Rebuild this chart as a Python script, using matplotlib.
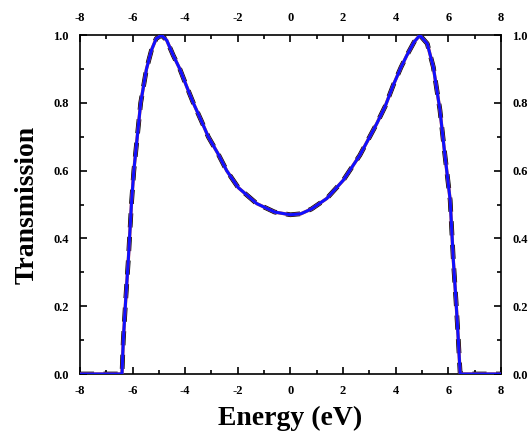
import numpy as np
import matplotlib
matplotlib.use("Agg")
import matplotlib.pyplot as plt
from matplotlib.ticker import MultipleLocator

# values
energy = [-8.0, -6.40, -6.35, -6.26, -6.16, -6.04, -5.95, -5.82, -5.69, -5.58,
          -5.47, -5.28, -5.10, -4.90, -4.70, -4.45, -4.20, -3.95, -3.69, -3.40,
          -3.12, -2.75, -2.42, -1.98, -1.28, -0.60, 0.00, 0.40, 0.80, 1.38,
          2.01, 2.64, 3.28, 3.60, 3.91, 4.20, 4.42, 4.70, 4.92, 5.20,
          5.43, 5.68, 5.85, 6.07, 6.19, 6.29, 6.38, 6.45, 8.0]
trans = [0.0, 0.0, 0.10, 0.218, 0.336, 0.503, 0.60, 0.70, 0.80, 0.85,
         0.90, 0.956, 0.99, 1.0, 0.985, 0.94, 0.90, 0.85, 0.80, 0.75,
         0.70, 0.65, 0.60, 0.55, 0.503, 0.478, 0.47, 0.473, 0.487, 0.518,
         0.572, 0.646, 0.739, 0.79, 0.853, 0.905, 0.94, 0.98, 1.0, 0.975,
         0.906, 0.78, 0.66, 0.513, 0.336, 0.218, 0.10, 0.0, 0.0]

xticks = [-8, -6, -4, -2, 0, 2, 4, 6, 8]
yticks = [0.0, 0.2, 0.4, 0.6, 0.8, 1.0]

plt.rcParams['font.family'] = ['Liberation Serif', 'DejaVu Serif']

fig = plt.figure(figsize=(5.29, 4.4), dpi=100)
ax = fig.add_axes([0.151, 0.15, 0.796, 0.77])

ax.plot(energy, trans, color='black', lw=3.4, ls=(0, (3, 2)), zorder=2)
ax.plot(energy, trans, color='#e0622a', lw=2.4, zorder=3)
ax.plot(energy, trans, color='#1010ff', lw=2.2, zorder=4)

ax.set_xlim(-8, 8)
ax.set_ylim(0, 1.0)
ax.set_xticks(xticks)
ax.set_yticks(yticks)
ax.set_xticklabels([str(t) for t in xticks])
ax.set_yticklabels(['%.1f' % t for t in yticks])
ax.xaxis.set_minor_locator(MultipleLocator(1))
ax.yaxis.set_minor_locator(MultipleLocator(0.1))
ax.tick_params(which='both', direction='in', top=True, right=True,
               labeltop=True, labelright=True, labelsize=9, width=1.2)
ax.tick_params(which='major', length=5, pad=8)
ax.tick_params(which='minor', length=3)
for lab in ax.get_xticklabels() + ax.get_yticklabels():
    lab.set_fontweight('bold')
for s in ax.spines.values():
    s.set_linewidth(1.2)

ax.set_xlabel('Energy (eV)', fontsize=20, fontweight='bold', labelpad=6)
ax.set_ylabel('Transmission', fontsize=20, fontweight='bold', labelpad=10)

fig.savefig('out.png', dpi=100)
